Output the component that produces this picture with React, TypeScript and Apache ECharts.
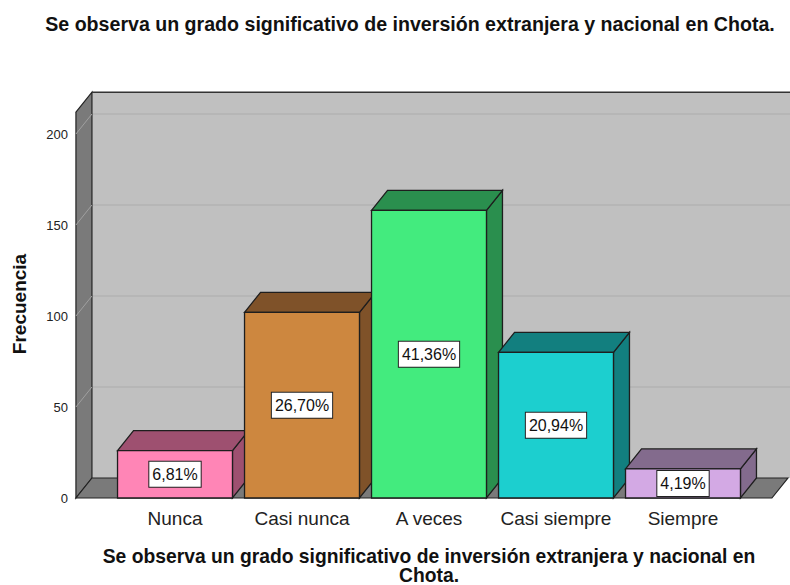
import React, { useEffect, useRef } from "react";
import * as echarts from "echarts";

const categories = ["Nunca", "Casi nunca", "A veces", "Casi siempre", "Siempre"];
const counts = [26, 102, 158, 80, 16];
const percentLabels = ["6,81%", "26,70%", "41,36%", "20,94%", "4,19%"];
const yTicks = [0, 50, 100, 150, 200];
const frontColors = ["#ff85b6", "#cd873f", "#43eb7e", "#1ccfcf", "#d3a9e4"];
const shadeColors = ["#9e5070", "#7f5229", "#2a8f4e", "#127f7f", "#836b8d"];
const chartTitle = "Se observa un grado significativo de inversión extranjera y nacional en Chota.";
const xTitleLines = ["Se observa un grado significativo de inversión extranjera y nacional en", "Chota."];
const yTitle = "Frecuencia";

const FONT = "'Liberation Sans', Arial, sans-serif";
const DX = 16;
const DY = -20;

export default function App() {
  const ref = useRef<HTMLDivElement>(null);
  useEffect(() => {
    if (!ref.current) return;
    const chart = echarts.init(ref.current, undefined, { renderer: "svg" });
    const yMax = yTicks[yTicks.length - 1];

    const bgRender = (params: any, api: any) => {
      const step = api.size([1, 0])[0];
      const p0 = api.coord([0, 0]);
      const p4 = api.coord([categories.length - 1, 0]);
      const xl = p0[0] - 0.78 * step;
      const xr = p4[0] + 0.70 * step;
      const y0 = p0[1];
      const yTop = api.coord([0, yMax * 1.06])[1];
      const children: any[] = [];
      children.push({
        type: "polygon",
        shape: { points: [[xl + DX, yTop + DY], [xr + DX + 40, yTop + DY], [xr + DX + 40, y0 + DY], [xl + DX, y0 + DY]] },
        style: { fill: "#c0c0c0", stroke: "none" },
      });
      yTicks.filter((t) => t > 0).forEach((t) => {
        const y = api.coord([0, t])[1];
        children.push({
          type: "line",
          shape: { x1: xl + DX, y1: y + DY, x2: xr + DX + 40, y2: y + DY },
          style: { stroke: "#b3b3b3", lineWidth: 1.3 },
        });
      });
      children.push({
        type: "polygon",
        shape: { points: [[xl, yTop], [xl + DX, yTop + DY], [xl + DX, y0 + DY], [xl, y0]] },
        style: { fill: "#7a7a7a", stroke: "#222", lineWidth: 1.2 },
      });
      yTicks.filter((t) => t > 0).forEach((t) => {
        const y = api.coord([0, t])[1];
        children.push({
          type: "line",
          shape: { x1: xl, y1: y, x2: xl + DX, y2: y + DY },
          style: { stroke: "#a0a0a0", lineWidth: 1 },
        });
      });
      children.push({
        type: "polygon",
        shape: { points: [[xl, y0], [xr, y0], [xr + DX, y0 + DY], [xl + DX, y0 + DY]] },
        style: { fill: "#7a7a7a", stroke: "#222", lineWidth: 1.2 },
      });
      children.push({
        type: "line",
        shape: { x1: xl + DX, y1: yTop + DY, x2: xr + DX + 40, y2: yTop + DY },
        style: { stroke: "#333", lineWidth: 1.5 },
      });
      return { type: "group", children };
    };

    const barRender = (params: any, api: any) => {
      const i = api.value(0);
      const v = api.value(1);
      const step = api.size([1, 0])[0];
      const hw = (step * 0.905) / 2;
      const pt = api.coord([i, v]);
      const pb = api.coord([i, 0]);
      const cx = pt[0];
      const yt = pt[1];
      const yb = pb[1];
      const x1 = cx - hw;
      const x2 = cx + hw;
      const stroke = { stroke: "#1e1e1e", lineWidth: 1.3 };
      return {
        type: "group",
        children: [
          {
            type: "polygon",
            shape: { points: [[x2, yt], [x2 + DX, yt + DY], [x2 + DX, yb + DY], [x2, yb]] },
            style: { fill: shadeColors[i], ...stroke },
          },
          {
            type: "polygon",
            shape: { points: [[x1, yt], [x1 + DX, yt + DY], [x2 + DX, yt + DY], [x2, yt]] },
            style: { fill: shadeColors[i], ...stroke },
          },
          {
            type: "rect",
            shape: { x: x1, y: yt, width: x2 - x1, height: yb - yt },
            style: { fill: frontColors[i], ...stroke },
          },
          {
            type: "text",
            x: cx,
            y: (yt + yb) / 2,
            style: {
              text: percentLabels[i],
              font: `16px ${FONT}`,
              fill: "#111",
              align: "center",
              verticalAlign: "middle",
              backgroundColor: "#ffffff",
              borderColor: "#222",
              borderWidth: 1,
              padding: [4, 3, 3, 3],
              lineHeight: 18,
            },
          },
        ],
      };
    };

    chart.setOption({
      animation: false,
      backgroundColor: "#ffffff",
      grid: { left: 111.5, right: 43.5, top: 134, bottom: 87 },
      xAxis: {
        type: "category",
        data: categories,
        axisLine: { show: false },
        axisTick: { show: false },
        axisLabel: { fontFamily: FONT, fontSize: 19, color: "#222", margin: 11, interval: 0 },
      },
      yAxis: {
        type: "value",
        min: 0,
        max: yMax,
        interval: 50,
        offset: 35.5,
        axisLine: { show: false },
        axisTick: { show: false },
        splitLine: { show: false },
        axisLabel: { fontFamily: FONT, fontSize: 13, color: "#222", margin: 8 },
      },
      graphic: [
        {
          type: "text",
          x: 410,
          y: 24,
          style: { text: chartTitle, font: `bold 19.6px ${FONT}`, fill: "#111", align: "center", verticalAlign: "middle" },
        },
        {
          type: "text",
          x: 429,
          y: 556,
          style: { text: xTitleLines[0], font: `bold 19.3px ${FONT}`, fill: "#111", align: "center", verticalAlign: "middle", lineHeight: 19 },
        },
        {
          type: "text",
          x: 429,
          y: 575.5,
          style: { text: xTitleLines[1], font: `bold 19.3px ${FONT}`, fill: "#111", align: "center", verticalAlign: "middle", lineHeight: 19 },
        },
        {
          type: "text",
          x: 19,
          y: 304,
          rotation: Math.PI / 2,
          style: { text: yTitle, font: `bold 19px ${FONT}`, fill: "#111", align: "center", verticalAlign: "middle" },
        },
      ],
      series: [
        {
          type: "custom",
          z: 1,
          renderItem: bgRender,
          data: [[0, 0]],
          silent: true,
        },
        {
          type: "custom",
          z: 2,
          renderItem: barRender,
          data: counts.map((v, i) => [i, v]),
        },
      ],
    });
    return () => chart.dispose();
  }, []);
  return <div ref={ref} style={{ width: 790, height: 585, position: "absolute", left: 0, top: 0 }} />;
}
